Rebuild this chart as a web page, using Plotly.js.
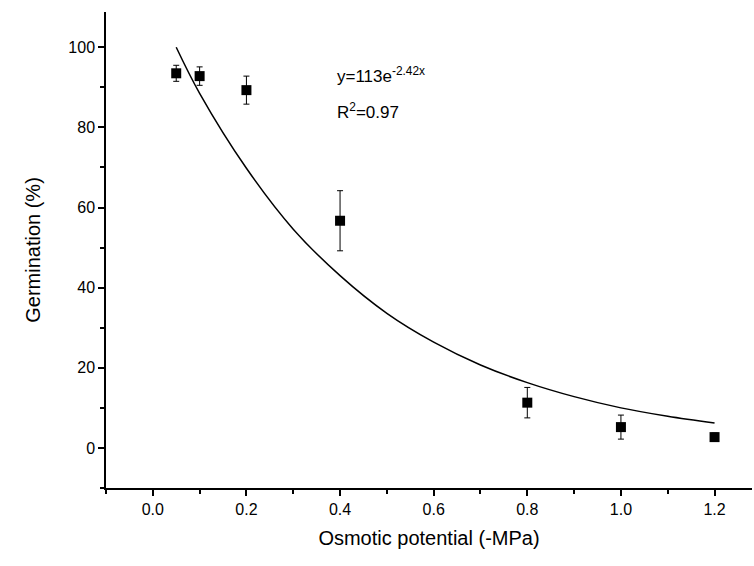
<!DOCTYPE html>
<html>
<head>
<meta charset="utf-8">
<script src="https://cdn.plot.ly/plotly-3.0.1.min.js"></script>
<style>body{margin:0}#chart{width:754px;height:566px}</style>
</head>
<body>
<div id="chart"></div>
<script>
// measured germination
const potential = [0.05, 0.1, 0.2, 0.4, 0.8, 1.0, 1.2];
const germination = [93.5, 92.8, 89.3, 56.7, 11.3, 5.2, 2.7];
const errors = [2.0, 2.3, 3.5, 7.5, 3.8, 3.0, 1.0];

// fitted curve
const fitX = [0.05, 0.1, 0.2, 0.3, 0.4, 0.5, 0.6, 0.7, 0.8, 0.9, 1.0, 1.1, 1.2];
const fitY = [100, 88.5, 69.8, 54.6, 43, 33.6, 26.4, 20.7, 16.3, 12.8, 10, 7.9, 6.2];

const fit = {
  x: fitX, y: fitY, mode: 'lines', type: 'scatter',
  line: {color: '#000', width: 1.5, shape: 'spline'}, hoverinfo: 'skip'
};
const points = {
  x: potential, y: germination, mode: 'markers', type: 'scatter',
  marker: {symbol: 'square', size: 10, color: '#000'},
  error_y: {type: 'data', array: errors, color: '#000', thickness: 1, width: 3}
};

const font = 'Liberation Sans, Arial';
const axisCommon = {
  showgrid: false, zeroline: false, showline: true, linecolor: '#000', linewidth: 1.5,
  ticks: 'outside', ticklen: 6, tickwidth: 1.5, tickcolor: '#000',
  minor: {ticks: 'outside', ticklen: 4, tickwidth: 1.5, tickcolor: '#000'},
  tickfont: {family: font, size: 16, color: '#000'}
};

const layout = {
  width: 754, height: 566,
  margin: {l: 106, r: 2, t: 12, b: 78},
  showlegend: false,
  paper_bgcolor: '#fff', plot_bgcolor: '#fff',
  xaxis: Object.assign({}, axisCommon, {
    range: [-0.1, 1.28], tickvals: [0, 0.2, 0.4, 0.6, 0.8, 1.0, 1.2],
    ticktext: ['0.0', '0.2', '0.4', '0.6', '0.8', '1.0', '1.2'],
    minor: Object.assign({}, axisCommon.minor, {dtick: 0.1, tick0: 0}),
    title: {text: 'Osmotic potential (-MPa)', font: {family: font, size: 20, color: '#000'}, standoff: 14}
  }),
  yaxis: Object.assign({}, axisCommon, {
    range: [-10, 108.8], tickvals: [0, 20, 40, 60, 80, 100],
    minor: Object.assign({}, axisCommon.minor, {dtick: 10, tick0: 0}),
    title: {text: 'Germination (%)', font: {family: font, size: 20, color: '#000'}, standoff: 22}
  }),
  annotations: [
    {xref: 'x', yref: 'y', x: 0.39, y: 93, xanchor: 'left', showarrow: false,
     text: 'y=113e<sup>-2.42x</sup>', font: {family: font, size: 17, color: '#000'}},
    {xref: 'x', yref: 'y', x: 0.39, y: 84, xanchor: 'left', showarrow: false,
     text: 'R<sup>2</sup>=0.97', font: {family: font, size: 17, color: '#000'}}
  ]
};

Plotly.newPlot('chart', [fit, points], layout, {displayModeBar: false});
</script>
</body>
</html>
